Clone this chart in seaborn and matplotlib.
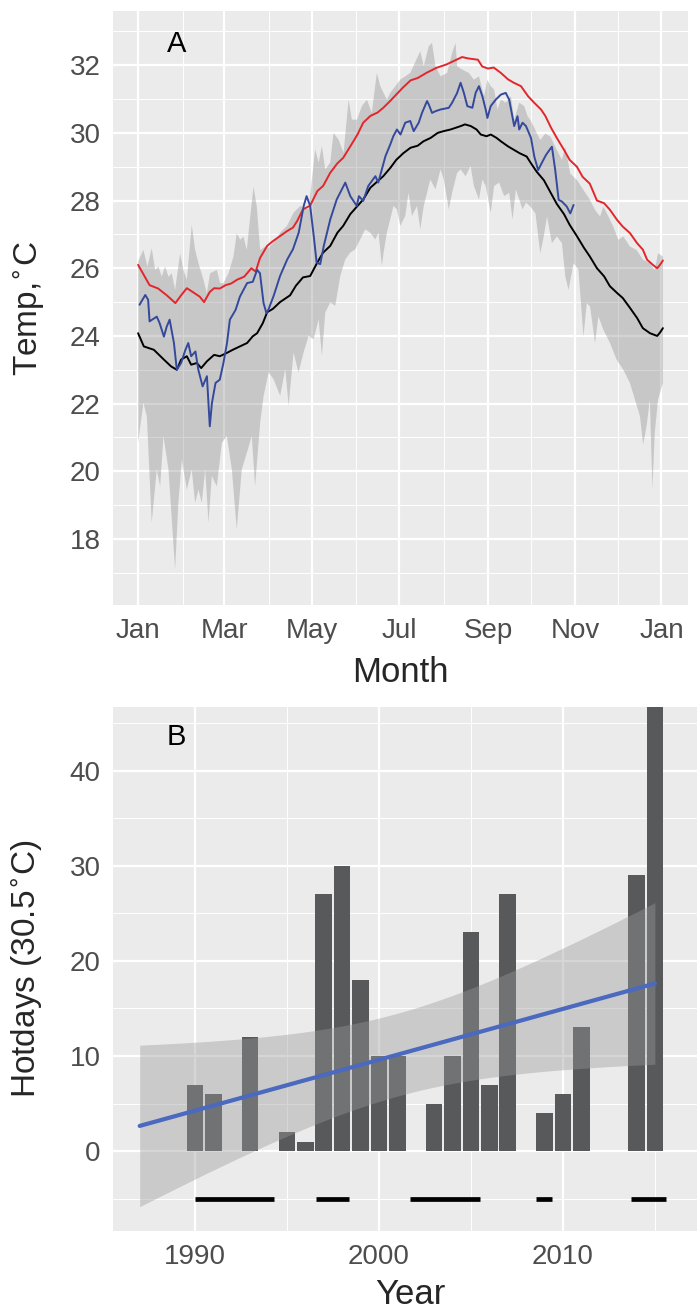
import numpy as np
import matplotlib
matplotlib.use("Agg")
import matplotlib.pyplot as plt
from matplotlib.ticker import FixedLocator
import seaborn as sns

# ==============================
# Panel A data (day of year, temperature)
# ==============================
red_day = [0, 4, 8, 14, 20, 26, 30, 34, 38, 43, 46, 50, 53, 57, 61, 65, 69, 74, 79, 82,
           85, 90, 94, 99, 104, 108, 111, 115, 120, 125, 129, 134, 139, 143, 148, 153, 157, 162, 167, 171,
           176, 180, 185, 190, 195, 201, 208, 215, 222, 226, 230, 237, 240, 244, 248, 253, 258, 262, 267, 272,
           276, 281, 284, 288, 292, 297, 301, 306, 310, 315, 320, 325, 329, 334, 338, 343, 348, 352, 355, 359,
           362, 364, 366]
red_temp = [26.1, 25.8, 25.5, 25.4, 25.2, 24.97, 25.2, 25.41, 25.3, 25.16, 25.0, 25.3, 25.41, 25.4, 25.5, 25.55, 25.66, 25.75, 26.0, 25.9,
            26.3, 26.66, 26.8, 26.95, 27.1, 27.2, 27.4, 27.74, 27.85, 28.28, 28.43, 28.82, 29.1, 29.26, 29.6, 29.95, 30.3, 30.5, 30.6, 30.74,
            30.95, 31.13, 31.35, 31.55, 31.62, 31.77, 31.92, 32.02, 32.16, 32.24, 32.2, 32.16, 31.96, 31.9, 31.93, 31.77, 31.58, 31.48, 31.38, 31.08,
            30.9, 30.69, 30.5, 30.15, 29.85, 29.5, 29.2, 29.0, 28.7, 28.5, 28.0, 27.92, 27.73, 27.43, 27.23, 27.04, 26.74, 26.55, 26.25, 26.1,
            26.0, 26.1, 26.23]

black_day = [0, 4, 11, 18, 23, 27, 30, 34, 37, 41, 44, 48, 53, 57, 62, 66, 71, 76, 80, 83,
             87, 90, 94, 99, 106, 110, 115, 120, 125, 129, 134, 139, 143, 148, 153, 157, 162, 166, 171, 176,
             180, 185, 190, 195, 199, 204, 209, 213, 218, 225, 228, 232, 236, 239, 243, 246, 250, 253, 258, 262,
             266, 271, 274, 278, 283, 288, 292, 297, 301, 306, 311, 315, 320, 325, 329, 334, 338, 343, 348, 352,
             357, 362, 364, 366]
black_temp = [24.08, 23.69, 23.59, 23.3, 23.1, 23.0, 23.3, 23.4, 23.15, 23.2, 23.05, 23.25, 23.44, 23.4, 23.5, 23.59, 23.69, 23.79, 23.99, 24.08,
              24.38, 24.7, 24.8, 25.0, 25.2, 25.48, 25.73, 25.77, 26.17, 26.46, 26.66, 27.05, 27.25, 27.6, 27.84, 28.03, 28.38, 28.53, 28.72, 28.97,
              29.2, 29.4, 29.56, 29.62, 29.75, 29.85, 30.0, 30.05, 30.1, 30.2, 30.25, 30.2, 30.1, 29.95, 29.9, 29.95, 29.85, 29.75, 29.6, 29.5,
              29.4, 29.3, 29.1, 28.85, 28.6, 28.21, 27.9, 27.6, 27.28, 26.95, 26.6, 26.35, 26.0, 25.76, 25.47, 25.27, 25.12, 24.83, 24.53, 24.23,
              24.08, 24.0, 24.1, 24.23]

blue_day = [1, 5, 7, 8, 13, 15, 18, 20, 22, 25, 27, 30, 33, 35, 37, 40, 42, 45, 48, 50,
            51.5, 54, 57, 59.5, 62, 64, 68, 71, 76, 80, 83, 85, 87.5, 89.5, 91, 94.5, 99, 104, 108, 112,
            115.5, 117.5, 120, 122.5, 124.5, 127, 129.5, 134, 138.5, 144.5, 148, 152.5, 154, 157, 160.5, 165.5, 167.5, 170, 172.5, 175.8,
            178, 180.5, 183, 186.3, 189.8, 192.2, 195.7, 198, 201.5, 202.7, 205, 207.4, 210.9, 216.7, 219, 222.5, 224.9, 227.2, 229.6, 233.1,
            235.4, 237.7, 240.1, 242.4, 243.6, 245.9, 249.4, 253, 256.4, 258.8, 262.3, 264.6, 265.8, 268.1, 270.5, 274, 276.3, 279, 282, 284.5,
            287, 288.6, 290.9, 293.3, 295.6, 299, 301.4, 303.7]
blue_temp = [24.92, 25.21, 25.07, 24.43, 24.57, 24.38, 23.98, 24.28, 24.48, 23.79, 23.0, 23.2, 23.59, 23.79, 23.4, 23.54, 23.0, 22.51, 22.81, 21.33,
             22.02, 22.61, 22.71, 23.2, 23.79, 24.48, 24.77, 25.16, 25.56, 25.6, 25.95, 25.85, 24.97, 24.67, 24.79, 25.18, 25.77, 26.26, 26.56, 27.05,
             27.84, 28.13, 27.84, 26.95, 26.17, 26.12, 26.66, 27.44, 28.03, 28.53, 28.13, 27.84, 28.13, 27.99, 28.43, 28.72, 28.53, 28.92, 29.31, 29.65,
             29.9, 30.1, 29.95, 30.3, 30.35, 30.05, 30.3, 30.59, 30.94, 30.84, 30.59, 30.64, 30.69, 30.74, 30.89, 31.18, 31.48, 31.18, 30.79, 30.74,
             31.18, 31.38, 31.08, 30.69, 30.44, 30.79, 30.98, 31.13, 31.18, 30.98, 30.2, 30.49, 30.1, 30.3, 30.2, 29.85, 29.3, 28.9, 29.15, 29.35,
             29.5, 29.59, 28.9, 28.02, 27.97, 27.82, 27.62, 27.87]

band_hi_day = [0, 3.7, 6.5, 9.5, 11.9, 14.2, 16.5, 18.8, 21.2, 23.5, 25.8, 29.3, 31.6, 34, 37.4, 39.8, 42.1, 45.6, 47.9, 50.2,
               54.9, 57.2, 59.5, 63, 66.5, 68.8, 71.2, 73.5, 75.8, 78.2, 80.5, 82.8, 85.1, 88.6, 91, 94.5, 99.1, 103.8, 108.4, 113.1,
               118.9, 123.5, 125.9, 128.2, 130.5, 134, 136.3, 139.8, 143.3, 146.8, 149.1, 152.6, 156.1, 159.6, 163, 166.5, 168.9, 173.5, 175.8, 182.8,
               189.8, 196.8, 199.2, 202.7, 205, 207.4, 210.9, 215.5, 219, 221.4, 222.5, 226, 230.7, 234.2, 237.7, 241.3, 243.6, 245.9, 248.3, 250.6,
               253, 256.4, 260, 262.3, 265.8, 269.3, 271.6, 273.6, 278.2, 280.5, 284, 287.5, 292.1, 295.6, 297.9, 301.4, 306, 310.6, 315.2, 318.7,
               322.2, 324.5, 328, 331.4, 334.9, 338.4, 343, 347.6, 352.2, 356.9, 360.3, 362.6, 366]
band_hi_temp = [26.2, 26.54, 26.05, 26.59, 25.95, 26.05, 25.75, 26.05, 25.75, 25.85, 25.36, 26.44, 25.95, 25.66, 27.28, 26.54, 26.15, 25.66, 25.26, 25.85,
                25.95, 25.56, 25.56, 25.85, 26.34, 27.03, 26.84, 26.93, 26.54, 27.52, 28.41, 27.82, 26.54, 26.64, 26.6, 26.76, 27.05, 27.25, 27.64, 27.84,
                27.74, 29.51, 29.12, 29.61, 28.92, 29.12, 30.0, 29.8, 29.41, 30.98, 30.39, 30.39, 30.79, 30.98, 30.59, 31.77, 31.38, 30.98, 31.18, 31.57,
                31.77, 32.41, 31.97, 32.56, 32.66, 31.97, 31.67, 31.77, 32.36, 32.66, 31.97, 31.87, 31.77, 31.57, 31.67, 31.08, 31.57, 31.38, 31.28, 30.69,
                30.98, 30.89, 31.08, 30.39, 30.89, 30.79, 30.49, 30.38, 29.98, 29.79, 29.98, 29.89, 29.49, 29.2, 29.59, 28.8, 28.61, 28.31, 28.02, 27.72,
                27.53, 27.82, 27.53, 27.23, 26.84, 26.94, 26.64, 26.54, 26.25, 26.15, 25.95, 26.44, 26.35]

band_lo_day = [0, 3.7, 6.1, 9.5, 13, 15.4, 17.7, 21.2, 23.5, 25.8, 28.1, 30.5, 34, 37.4, 39.8, 42.1, 44.4, 46.8, 49.1, 51.4,
               54.9, 58.4, 61.9, 65.4, 68.8, 72.3, 75.8, 79.3, 81.6, 85.1, 87.5, 91, 94.5, 99.1, 102.6, 105, 108.4, 111.9, 115.4, 118.9,
               122.4, 125.9, 128.2, 130.5, 134, 137.5, 141, 144.5, 147.9, 151.4, 154.9, 158.4, 161.9, 165.4, 167.7, 170, 171.2, 173.5, 175.8, 178.1,
               180.5, 182.8, 186.3, 188.6, 191, 194.5, 196.8, 199.2, 201.5, 203.8, 207.4, 210.9, 213.2, 216.7, 219, 222.5, 224.9, 228.4, 231.9, 234.2,
               237.7, 240.1, 242.4, 245.9, 248.3, 251.8, 255.3, 258.8, 261.1, 263.5, 265.8, 268.1, 270.5, 273.6, 277.1, 280.5, 282.9, 285.2, 288.6, 292.1,
               295.6, 297.9, 300.2, 303.7, 307.1, 310.6, 312.9, 315.2, 318.7, 321, 324.5, 329.1, 333.7, 338.4, 343, 346.5, 350, 352.2, 354.6, 356.9,
               358.7, 360.3, 362.6, 366]
band_lo_temp = [20.84, 22.02, 21.63, 18.48, 20.05, 19.56, 21.04, 20.05, 18.58, 17.1, 19.07, 20.35, 19.46, 20.05, 19.07, 19.46, 19.07, 20.05, 18.48, 19.86,
                19.56, 20.84, 21.04, 20.05, 18.28, 20.05, 20.54, 21.04, 19.56, 21.43, 22.22, 22.92, 22.72, 22.23, 23.02, 21.94, 23.51, 22.92, 23.51, 24.0,
                23.9, 24.49, 23.41, 24.69, 24.99, 24.89, 25.77, 26.26, 26.46, 26.56, 26.85, 27.15, 27.05, 26.85, 27.05, 26.07, 26.46, 27.05, 27.44, 27.84,
                27.74, 27.25, 27.54, 28.23, 27.54, 27.84, 27.15, 27.84, 28.23, 28.62, 28.33, 28.92, 28.62, 27.74, 28.23, 28.82, 28.92, 28.72, 29.02, 28.43,
                28.03, 28.62, 28.43, 27.64, 28.43, 28.53, 28.13, 28.23, 27.44, 28.33, 28.03, 27.74, 27.94, 27.82, 27.62, 26.44, 26.94, 27.53, 26.74, 26.94,
                26.74, 25.76, 25.36, 26.15, 25.95, 23.98, 24.97, 24.87, 23.79, 24.58, 24.18, 23.79, 23.3, 23.0, 22.61, 22.12, 21.63, 20.79, 21.33, 22.12,
                19.46, 21.13, 22.12, 22.61]

month_ticks = [0, 60, 121, 182, 244, 305, 365]
month_labels = ["Jan", "Mar", "May", "Jul", "Sep", "Nov", "Jan"]
month_minor = [31, 91, 152, 213, 274, 335]

# ==============================
# Panel B data
# ==============================
years = list(range(1987, 2016))
hotdays = [0, 0, 0, 7, 6, 0, 12, 0, 2, 1, 27, 30, 18, 10, 10, 0, 5, 10, 23, 7,
           27, 0, 4, 6, 13, 0, 0, 29, 47]
event_start = [1990.0, 1996.6, 2001.7, 2008.55, 2013.7]
event_end = [1994.3, 1998.4, 2005.5, 2009.4, 2015.6]
event_level = [-5, -5, -5, -5, -5]

# ==============================
# Style
# ==============================
sns.set_theme(style="darkgrid", rc={"axes.facecolor": "#ebebeb", "grid.color": "white"})
plt.rcParams["font.family"] = ["Liberation Sans", "DejaVu Sans"]

W, H = 697, 1309
fig = plt.figure(figsize=(W / 100, H / 100), dpi=100)
axA = fig.add_axes([113 / W, 1 - 605 / H, (688 - 113) / W, (605 - 11) / H])
axB = fig.add_axes([113 / W, 1 - 1231 / H, (707 - 113) / W, (1231 - 707) / H])


def style_axis(ax):
    for s in ax.spines.values():
        s.set_visible(False)
    ax.grid(which="major", color="white", lw=1.6)
    ax.grid(which="minor", color="white", lw=0.7)
    ax.set_axisbelow(True)
    ax.tick_params(which="major", length=6, width=1.1, color="#333333",
                   labelcolor="#4d4d4d", labelsize=20, pad=3)
    ax.tick_params(which="minor", length=0)


# ==============================
# Panel A
# ==============================
band_x = np.concatenate([band_hi_day, band_lo_day[::-1]])
band_y = np.concatenate([band_hi_temp, band_lo_temp[::-1]])
axA.fill(band_x, band_y, color="#7f7f7f", alpha=0.33, lw=0, zorder=1)

sns.lineplot(x=red_day, y=red_temp, color="#e3262b", lw=1.4, estimator=None, ax=axA, zorder=3)
sns.lineplot(x=black_day, y=black_temp, color="black", lw=1.4, estimator=None, ax=axA, zorder=3)
sns.lineplot(x=blue_day, y=blue_temp, color="#34499c", lw=1.4, estimator=None, ax=axA, zorder=4)

axA.set_xlim(-17.5, 383.5)
axA.set_ylim(16.05, 33.6)
axA.xaxis.set_major_locator(FixedLocator(month_ticks))
axA.set_xticklabels(month_labels)
axA.xaxis.set_minor_locator(FixedLocator(month_minor))
axA.yaxis.set_major_locator(FixedLocator([18, 20, 22, 24, 26, 28, 30, 32]))
axA.yaxis.set_minor_locator(FixedLocator([17, 19, 21, 23, 25, 27, 29, 31, 33]))
style_axis(axA)
axA.set_xlabel("Month", fontsize=25)
axA.set_ylabel("Temp,$^{\\circ}$C", fontsize=24)
axA.xaxis.set_label_coords(0.5, -0.086)
axA.yaxis.set_label_coords(-0.115, 0.5)
axA.text(27, 32.62, "A", ha="center", va="center", fontsize=21, color="black")

# ==============================
# Panel B
# ==============================
sns.barplot(x=years, y=hotdays, native_scale=True, width=0.9, color="#58595a",
            saturation=1, linewidth=0, errorbar=None, ax=axB, zorder=2)

# linear fit with 95% confidence band
yr = np.array(years, dtype=float)
hd = np.array(hotdays, dtype=float)
n = len(yr)
slope, icpt = np.polyfit(yr, hd, 1)
xg = np.linspace(yr.min(), yr.max(), 80)
fit = icpt + slope * xg
resid = hd - (icpt + slope * yr)
s = np.sqrt((resid ** 2).sum() / (n - 2))
se = s * np.sqrt(1 / n + (xg - yr.mean()) ** 2 / ((yr - yr.mean()) ** 2).sum())
tq = 2.052
axB.fill_between(xg, fit - tq * se, fit + tq * se, color="#999999", alpha=0.4, lw=0, zorder=3)
sns.lineplot(x=xg, y=fit, color="#4a69bf", lw=3, ax=axB, zorder=4)

axB.hlines(event_level, event_start, event_end, colors="black", lw=3.4, capstyle="butt", zorder=5)

axB.set_xlim(1985.55, 2017.83)
axB.set_ylim(-8.4, 46.7)
axB.xaxis.set_major_locator(FixedLocator([1990, 2000, 2010]))
axB.set_xticklabels(["1990", "2000", "2010"])
axB.xaxis.set_minor_locator(FixedLocator([1995, 2005, 2015]))
axB.yaxis.set_major_locator(FixedLocator([0, 10, 20, 30, 40]))
axB.yaxis.set_minor_locator(FixedLocator([-5, 5, 15, 25, 35, 45]))
style_axis(axB)
axB.set_xlabel("Year", fontsize=25)
axB.set_ylabel("Hotdays (30.5$^{\\circ}$C)", fontsize=24)
axB.xaxis.set_label_coords(0.5, -0.09)
axB.yaxis.set_label_coords(-0.115, 0.5)
axB.text(1989, 43.5, "B", ha="center", va="center", fontsize=21, color="black")

fig.savefig("out.png", dpi=100)
